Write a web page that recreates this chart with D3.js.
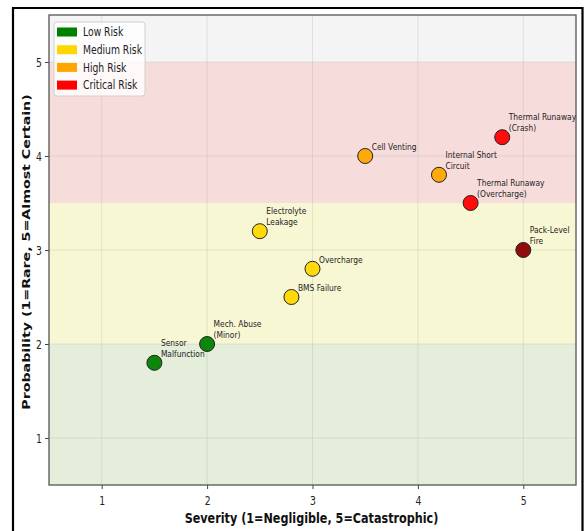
<!DOCTYPE html>
<html>
<head>
<meta charset="utf-8">
<script src="https://cdn.jsdelivr.net/npm/d3@7"></script>
<style>
  body { margin: 0; background: #fff; }
  svg { display: block; font-family: "DejaVu Sans", sans-serif; }
</style>
</head>
<body>
<svg id="chart" width="584" height="531"></svg>
<script>
// risk events: severity (x), probability (y), category
let names = ['Sensor\nMalfunction', 'Mech. Abuse\n(Minor)', 'BMS Failure', 'Overcharge',
    'Electrolyte\nLeakage', 'Cell Venting', 'Internal Short\nCircuit',
    'Thermal Runaway\n(Overcharge)', 'Thermal Runaway\n(Crash)', 'Pack-Level\nFire'];
let severity = [1.5, 2.0, 2.8, 3.0, 2.5, 3.5, 4.2, 4.5, 4.8, 5.0];
let probability = [1.8, 2.0, 2.5, 2.8, 3.2, 4.0, 3.8, 3.5, 4.2, 3.0];
let pointColor = ['green', 'green', 'gold', 'gold', 'gold', 'orange', 'orange', 'red', 'red', 'darkred'];

// background zones (probability ranges)
let bandLow = [0.5, 2.0, 3.5, 5.0];
let bandHigh = [2.0, 3.5, 5.0, 5.5];
let bandColor = ['#e4eedb', '#f8f7d4', '#f7dcdc', '#f4f4f4'];

let legendLabels = ['Low Risk', 'Medium Risk', 'High Risk', 'Critical Risk'];
let legendColors = ['green', 'gold', 'orange', 'red'];

let ticks = [1, 2, 3, 4, 5];

const sx = 0.79; // horizontal squeeze of the source image
const svg = d3.select('#chart');

let pLeft = 49, pRight = 576, pTop = 15, pBottom = 485;
let x = d3.scaleLinear().domain([0.5, 5.5]).range([pLeft, pRight]);
let y = d3.scaleLinear().domain([0.5, 5.5]).range([pBottom, pTop]);

// outer black frame
svg.append('path')
    .attr('d', `M13,531 L13,8 L582.5,8 L582.5,531`)
    .attr('fill', 'none')
    .attr('stroke', '#000')
    .attr('stroke-width', 2.2);

// zones
svg.selectAll('rect.band')
    .data(bandLow)
  .enter().append('rect')
    .attr('class', 'band')
    .attr('x', pLeft)
    .attr('width', pRight - pLeft)
    .attr('y', (d, i) => y(bandHigh[i]))
    .attr('height', (d, i) => y(d) - y(bandHigh[i]))
    .attr('fill', (d, i) => bandColor[i]);

// grid
let grid = svg.append('g');
grid.selectAll('line.gx').data(ticks).enter().append('line')
    .attr('x1', d => x(d)).attr('x2', d => x(d))
    .attr('y1', pTop).attr('y2', pBottom)
    .attr('stroke', '#b0b0b0').attr('stroke-opacity', 0.3).attr('stroke-width', 1);
grid.selectAll('line.gy').data(ticks).enter().append('line')
    .attr('y1', d => y(d)).attr('y2', d => y(d))
    .attr('x1', pLeft).attr('x2', pRight)
    .attr('stroke', '#b0b0b0').attr('stroke-opacity', 0.3).attr('stroke-width', 1);

// axes
let xAxis = svg.append('g')
    .attr('transform', `translate(0,${pBottom})`)
    .call(d3.axisBottom(x).tickValues(ticks).tickFormat(d3.format('d')).tickSize(4).tickPadding(3));
let yAxis = svg.append('g')
    .attr('transform', `translate(${pLeft},0)`)
    .call(d3.axisLeft(y).tickValues(ticks).tickFormat(d3.format('d')).tickSize(4).tickPadding(3));
[xAxis, yAxis].forEach(a => {
    a.select('.domain').remove();
    a.selectAll('.tick line').attr('stroke', '#444');
    a.selectAll('.tick text')
        .attr('fill', '#222')
        .style('font-size', '11.7px')
        .style('font-family', '"DejaVu Sans", sans-serif');
});
xAxis.selectAll('.tick text')
    .attr('dy', null).attr('y', null)
    .attr('transform', `translate(0,20) scale(${sx},1)`);
yAxis.selectAll('.tick text')
    .attr('x', null).attr('dy', null)
    .attr('transform', `translate(-7,4.2) scale(${sx},1)`);

// plot frame
svg.append('rect')
    .attr('x', pLeft).attr('y', pTop)
    .attr('width', pRight - pLeft).attr('height', pBottom - pTop)
    .attr('fill', 'none')
    .attr('stroke', '#555')
    .attr('stroke-width', 1.3);

// points
svg.selectAll('circle.pt')
    .data(severity)
  .enter().append('circle')
    .attr('class', 'pt')
    .attr('cx', d => x(d))
    .attr('cy', (d, i) => y(probability[i]))
    .attr('r', 7.5)
    .attr('fill', (d, i) => pointColor[i])
    .attr('fill-opacity', 0.95)
    .attr('stroke', '#222')
    .attr('stroke-width', 1);

// annotations
let lab = svg.selectAll('text.lab')
    .data(names)
  .enter().append('text')
    .attr('class', 'lab')
    .attr('transform', (d, i) => `translate(${x(severity[i]) + 6.5},${y(probability[i]) - 6}) scale(${sx},1)`)
    .style('font-size', '9.5px')
    .attr('fill', '#222');
lab.each(function (d) {
    let lines = d.split('\n');
    let t = d3.select(this);
    lines.forEach((ln, k) => {
        t.append('tspan')
            .attr('x', 0)
            .attr('y', -(lines.length - 1 - k) * 11.2)
            .text(ln);
    });
});

// legend
let lg = svg.append('g');
lg.append('rect')
    .attr('x', 54).attr('y', 22)
    .attr('width', 91).attr('height', 74)
    .attr('rx', 3)
    .attr('fill', '#fff').attr('fill-opacity', 0.8)
    .attr('stroke', '#d0d0d0').attr('stroke-width', 1);
let rows = lg.selectAll('g.row')
    .data(legendLabels)
  .enter().append('g')
    .attr('class', 'row')
    .attr('transform', (d, i) => `translate(0,${32 + i * 17.7})`);
rows.append('rect')
    .attr('x', 57).attr('y', -4.5)
    .attr('width', 20).attr('height', 9)
    .attr('fill', (d, i) => legendColors[i]);
rows.append('text')
    .attr('transform', `translate(83,4.2) scale(${sx},1)`)
    .style('font-size', '11.7px')
    .attr('fill', '#222')
    .text(d => d);

// axis titles
svg.append('text')
    .attr('transform', `translate(${(pLeft + pRight) / 2 - 1},522.5) scale(${sx},1)`)
    .attr('text-anchor', 'middle')
    .style('font-size', '14.2px')
    .style('font-weight', 'bold')
    .attr('fill', '#111')
    .text('Severity (1=Negligible, 5=Catastrophic)');
svg.append('text')
    .attr('transform', `translate(29.5,252) rotate(-90) scale(1,${sx})`)
    .attr('text-anchor', 'middle')
    .style('font-size', '14.2px')
    .style('font-weight', 'bold')
    .attr('fill', '#111')
    .text('Probability (1=Rare, 5=Almost Certain)');
</script>
</body>
</html>
